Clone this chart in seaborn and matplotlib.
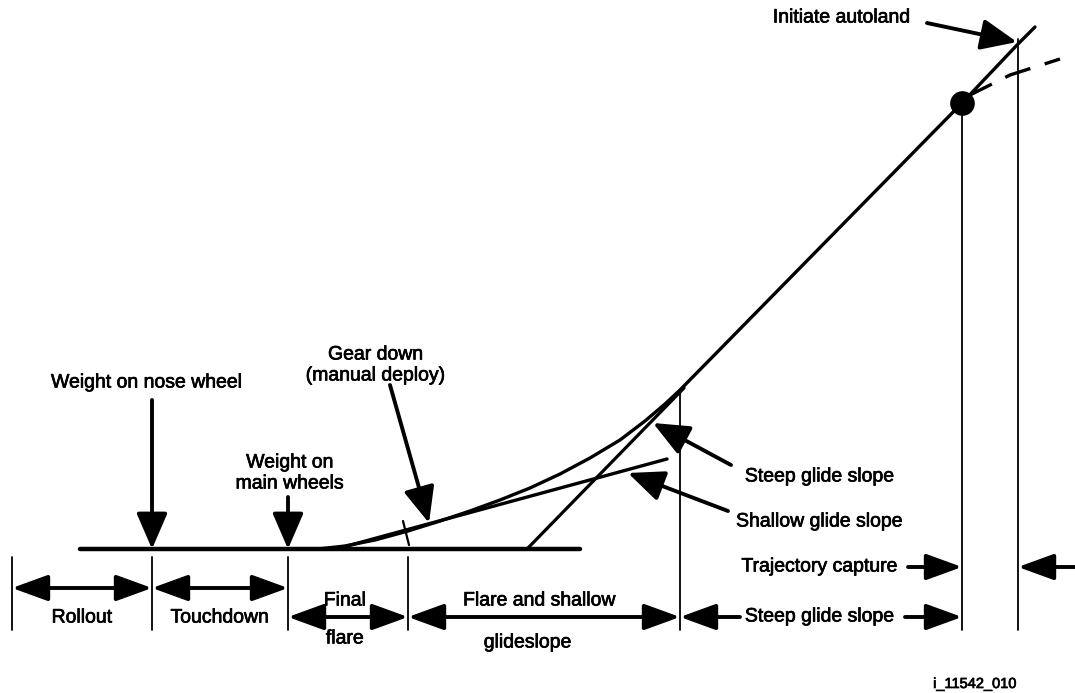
import matplotlib
matplotlib.use("Agg")
import matplotlib.pyplot as plt
import matplotlib.patheffects as pe
import seaborn as sns

# ---------------- data (diagram units: along-track position, height, screen-like) -------------
traj_x = [318, 345, 375, 408, 440, 470, 500, 530, 560, 590, 620, 645, 665, 680, 962, 1018, 1035]
traj_y = [549, 546, 540, 531, 521, 511, 500, 488, 474, 458, 440, 421, 404, 390, 103, 44, 27]
ground_x = [80, 580]
ground_y = [549, 549]
shallow_x = [336, 667]
shallow_y = [549, 459]
steep_x = [527, 684]
steep_y = [549, 388]
dash_x = [968, 1010, 1060]
dash_y = [96, 75, 59]
capture_pt = (962, 103)

div_x = [12, 152, 288, 408, 680, 962, 1018]
div_top = [557, 557, 557, 557, 390, 103, 39]
div_bottom = 630

# double-headed dimension spans: (start, end, level)
span_labels = ["Rollout", "Touchdown", "Final flare", "Flare and shallow glideslope"]
span_start = [12, 152, 288, 408]
span_end = [152, 288, 408, 680]
span_level = [588, 588, 617, 617]

sns.set_theme(style="white")
plt.rcParams["font.family"] = ["Liberation Sans", "DejaVu Sans"]

fig = plt.figure(figsize=(10.75, 6.93), dpi=100)
ax = fig.add_axes([0, 0, 1, 1])
ax.set_xlim(0, 1075)
ax.set_ylim(693, 0)
ax.axis("off")

K = "black"
FS = 14

# trajectory & lines
sns.lineplot(x=ground_x, y=ground_y, sort=False, color=K, lw=3.2, ax=ax)
sns.lineplot(x=traj_x, y=traj_y, sort=False, color=K, lw=2.4, ax=ax)
sns.lineplot(x=shallow_x, y=shallow_y, sort=False, color=K, lw=2.4, ax=ax)
sns.lineplot(x=steep_x, y=steep_y, sort=False, color=K, lw=2.3, ax=ax)
ax.plot(dash_x, dash_y, color=K, lw=2.4, linestyle=(0, (8, 4.5)), solid_capstyle="butt")
sns.scatterplot(x=[capture_pt[0]], y=[capture_pt[1]], s=270, color=K, edgecolor=K, ax=ax, zorder=5)
# gear-down tick
ax.plot([403, 409], [521, 545], color=K, lw=1.6)

# vertical dividers
for x, t in zip(div_x, div_top):
    ax.plot([x, x], [t, div_bottom], color=K, lw=1.3)


def arrow(start, tip, lw=2.8, hl=22.0, hw=9.0):
    ax.annotate("", xy=tip, xytext=start,
                arrowprops=dict(arrowstyle=f"-|>,head_length={hl},head_width={hw}",
                                mutation_scale=1, lw=lw, color=K, fc=K,
                                shrinkA=0, shrinkB=0))


def darrow(x0, x1, y, lw=2.8, hl=22.0, hw=8.0):
    ax.annotate("", xy=(x1, y), xytext=(x0, y),
                arrowprops=dict(arrowstyle=f"<|-|>,head_length={hl},head_width={hw}",
                                mutation_scale=1, lw=lw, color=K, fc=K,
                                shrinkA=0, shrinkB=0))


for s, e, lv in zip(span_start, span_end, span_level):
    darrow(s, e, lv)

# split dimension arrows
arrow((740, 617), (680, 617), hw=8)
arrow((905, 617), (962, 617), hw=8)
arrow((908, 567), (962, 567), hw=8)
arrow((1075, 567), (1018, 567), hw=8)

# callout arrows
arrow((152, 400), (152, 549), hw=9.5)
arrow((288, 497), (288, 549), hw=9.5)
arrow((390, 385), (429, 523), hw=9.5)
arrow((731, 465), (653, 423), hw=9.5)
arrow((728, 511), (628, 473), hw=9.5)
arrow((927, 23), (1017, 42), hw=9.5)

STROKE = [pe.withStroke(linewidth=0.5, foreground=K)]


def T(x, y, s, ha="center", fs=FS):
    ax.text(x, y, s, ha=ha, va="center", fontsize=fs, color=K, path_effects=STROKE)


T(82, 618, "Rollout")
T(220, 618, "Touchdown")
T(345, 601, "Final")
T(345, 639, "flare")
T(540, 601, "Flare and shallow")
T(528, 643, "glideslope")
T(820, 617, "Steep glide slope")
T(820, 567, "Trajectory capture")
T(147, 383, "Weight on nose wheel")
T(290, 463, "Weight on")
T(290, 484, "main wheels")
T(376, 355, "Gear down")
T(376, 376, "(manual deploy)")
T(820, 477, "Steep glide slope")
T(820, 522, "Shallow glide slope")
T(842, 18, "Initiate autoland")
T(975, 684, "i_11542_010", fs=10.5)

fig.savefig("out.png", dpi=100, facecolor="white")
